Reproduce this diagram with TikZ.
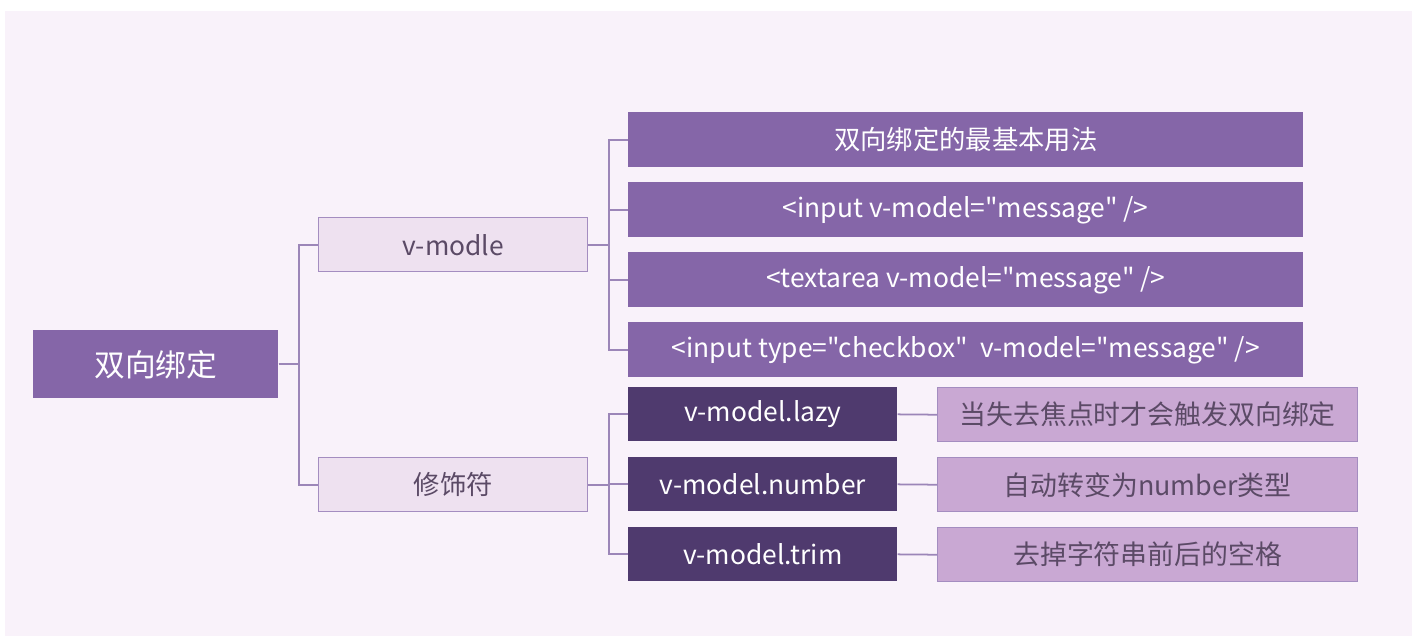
\documentclass[tikz,border=0pt]{standalone}
\usepackage{fontspec}
\newfontfamily\cjkfont{Noto Sans CJK SC}
\definecolor{bgpink}{HTML}{F9F2FA}
\definecolor{midpur}{HTML}{8566A8}
\definecolor{lightpur}{HTML}{EEE1F0}
\definecolor{darkpur}{HTML}{4F3A6E}
\definecolor{descpur}{HTML}{C9A8D3}
\definecolor{edgepur}{HTML}{A48DC0}
\definecolor{linepur}{HTML}{9C86B8}
\definecolor{txtgray}{HTML}{5B4A66}
\begin{document}
\begin{tikzpicture}[x=0.02cm,y=-0.02cm,
  box/.style={rectangle,inner sep=0pt,anchor=north west},
  rootbox/.style={box,fill=midpur,text=white,font=\cjkfont\fontsize{17.5}{20}\selectfont,
    minimum width=4.9cm,minimum height=1.36cm},
  keybox/.style={box,fill=lightpur,draw=edgepur,line width=0.8pt,text=txtgray,
    font=\cjkfont\fontsize{15}{17}\selectfont,minimum width=5.38cm,minimum height=1.08cm},
  usebox/.style={box,fill=midpur,text=white,font=\cjkfont\fontsize{15}{17}\selectfont,
    minimum width=13.5cm,minimum height=1.1cm},
  modbox/.style={box,fill=darkpur,text=white,font=\cjkfont\fontsize{15}{17}\selectfont,
    minimum width=5.38cm,minimum height=1.08cm},
  descbox/.style={box,fill=descpur,draw=edgepur,line width=0.8pt,text=txtgray,
    font=\cjkfont\fontsize{15.3}{17}\selectfont,minimum width=8.4cm,minimum height=1.08cm},
  conn/.style={draw=linepur,line width=1pt}]

%background
\useasboundingbox (0,0) rectangle (1412,636);
\fill[white] (0,0) rectangle (1412,636);
\fill[bgpink] (5,11) rectangle (1412,636);

%nodes
\node[rootbox] (root) at (33,330) {双向绑定};
\node[keybox] (vm) at (318,217) {v-modle};
\node[keybox] (mod) at (318,457) {修饰符};

\node[usebox] (u1) at (628,112) {双向绑定的最基本用法};
\node[usebox] (u2) at (628,182) {<input v-model="message" />};
\node[usebox] (u3) at (628,252) {<textarea v-model="message" />};
\node[usebox] (u4) at (628,322) {<input type="checkbox"\ \ v-model="message" />};

\node[modbox] (lazy) at (628,387) {v-model.lazy};
\node[modbox] (num) at (628,457) {v-model.number};
\node[modbox] (trim) at (628,527) {v-model.trim};

\node[descbox] (dlazy) at (937,387) {当失去焦点时才会触发双向绑定};
\node[descbox] (dnum) at (937,457) {自动转变为number类型};
\node[descbox] (dtrim) at (937,527) {去掉字符串前后的空格};

%connectors
\foreach \c in {vm,mod}
  \draw[conn] (root.east) -- ++(20,0) |- (\c.west);
\foreach \c in {u1,u2,u3,u4}
  \draw[conn] (vm.east) -- ++(21,0) |- (\c.west);
\foreach \c in {lazy,num,trim}
  \draw[conn] (mod.east) -- ++(21,0) |- (\c.west);
\draw[conn] (lazy.east) -- (dlazy.west);
\draw[conn] (num.east) -- (dnum.west);
\draw[conn] (trim.east) -- (dtrim.west);

\end{tikzpicture}
\end{document}
